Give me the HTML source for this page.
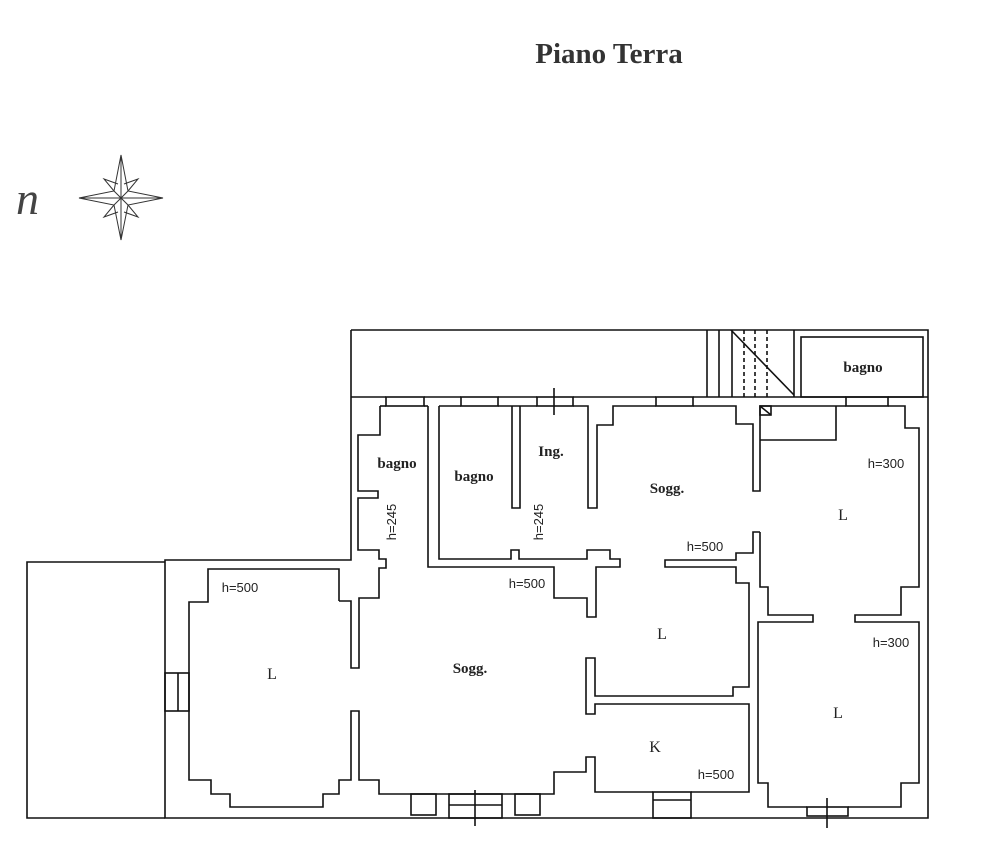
<!DOCTYPE html>
<html><head><meta charset="utf-8"><style>
body{margin:0;background:#fff}
svg{display:block}
.w{fill:none;stroke:#111;stroke-width:1.6}
.t{font-family:"Liberation Sans",sans-serif;font-size:13px;fill:#222}
.b{font-family:"Liberation Serif",serif;font-weight:bold;font-size:15px;fill:#222}
.r{font-family:"Liberation Serif",serif;font-size:16px;fill:#222}
</style></head><body>
<svg width="981" height="847" viewBox="0 0 981 847" xmlns="http://www.w3.org/2000/svg">
<text x="609" y="63" text-anchor="middle" font-family="Liberation Serif,serif" font-weight="bold" font-size="29" fill="#333">Piano Terra</text>
<text x="16" y="214" font-family="Liberation Serif,serif" font-style="italic" font-size="46" fill="#444">n</text>
<g fill="none" stroke="#333" stroke-width="1">
<polygon points="121,155 128,191 163,198 128,205 121,240 114,205 79,198 114,191"/>
<line x1="121" y1="155" x2="121" y2="240"/><line x1="79" y1="198" x2="163" y2="198"/>
<polyline points="114,191 104,179 118,184"/><polyline points="128,191 138,179 124,184"/>
<polyline points="114,205 104,217 118,212"/><polyline points="128,205 138,217 124,212"/>
<line x1="114" y1="191" x2="128" y2="205"/><line x1="128" y1="191" x2="114" y2="205"/>
</g>
<g class="w">
<polyline points="351,330 928,330 928,818 165,818 165,560 351,560 351,330"/>
<polyline points="165,562 27,562 27,818 165,818"/>
<line x1="351" y1="397" x2="386" y2="397"/><line x1="424" y1="397" x2="461" y2="397"/><line x1="498" y1="397" x2="537" y2="397"/><line x1="573" y1="397" x2="656" y2="397"/><line x1="693" y1="397" x2="846" y2="397"/><line x1="888" y1="397" x2="928" y2="397"/>
<rect x="386" y="397" width="38" height="9"/><rect x="461" y="397" width="37" height="9"/><rect x="537" y="397" width="36" height="9"/><rect x="656" y="397" width="37" height="9"/><rect x="846" y="397" width="42" height="9"/>
<line x1="554" y1="388" x2="554" y2="415"/>
<line x1="707" y1="330" x2="707" y2="397"/><line x1="719" y1="330" x2="719" y2="397"/><line x1="732" y1="330" x2="732" y2="397"/><line x1="794" y1="330" x2="794" y2="397"/>
<line x1="744" y1="330" x2="744" y2="397" stroke-dasharray="4 3"/><line x1="755" y1="330" x2="755" y2="397" stroke-dasharray="4 3"/><line x1="767" y1="330" x2="767" y2="397" stroke-dasharray="4 3"/>
<line x1="731" y1="330" x2="794" y2="395"/>
<rect x="801" y="337" width="122" height="60"/>
<polyline points="380,406 380,435 358,435 358,491 378,491 378,498 358,498 358,550 379,550 379,559 386,559 386,568 379,568 379,598 359,598 359,668 351,668 351,601 339,601"/>
<line x1="380" y1="406" x2="386" y2="406"/><line x1="424" y1="406" x2="428" y2="406"/>
<polyline points="428,406 428,567 554,567 554,598 587,598 587,617 596,617 596,567 620,567 620,559 610,559 610,550 587,550 587,559 519,559 519,550 511,550 511,559 439,559 439,406"/>
<line x1="439" y1="406" x2="461" y2="406"/><line x1="498" y1="406" x2="537" y2="406"/>
<polyline points="512,406 512,508 520,508 520,406"/>
<polyline points="573,406 588,406 588,508 597,508 597,425 613,425 613,406 656,406"/>
<polyline points="693,406 736,406 736,424 753,424 753,491 760,491 760,406 846,406"/>
<rect x="760" y="406" width="11" height="9"/><line x1="760" y1="406" x2="771" y2="415"/>
<polyline points="760,440 836,440 836,406"/>
<polyline points="888,406 905,406 905,428 919,428 919,587 901,587 901,615 855,615 855,622 919,622 919,783 901,783 901,807 848,807"/>
<polyline points="760,532 753,532 753,553 736,553 736,560 665,560 665,567 736,567 736,583 749,583 749,687 733,687 733,696 595,696 595,658 586,658 586,714 595,714 595,704 749,704 749,792 691,792"/>
<polyline points="760,532 760,587 768,587 768,615 813,615 813,622 758,622 758,783 768,783 768,807 807,807"/>
<rect x="807" y="807" width="41" height="9"/><line x1="827" y1="798" x2="827" y2="828"/>
<rect x="653" y="792" width="38" height="26"/><line x1="653" y1="800" x2="691" y2="800"/>
<polyline points="653,792 595,792 595,757 586,757 586,772 554,772 554,794 379,794 379,780 359,780 359,711 351,711 351,780 339,780 339,794 323,794 323,807 230,807 230,794 211,794 211,780 189,780 189,602 208,602 208,569 339,569 339,601"/>
<rect x="165" y="673" width="24" height="38"/><line x1="178" y1="673" x2="178" y2="711"/>
<rect x="411" y="794" width="25" height="21"/><rect x="515" y="794" width="25" height="21"/>
<rect x="449" y="794" width="53" height="24"/><line x1="449" y1="805" x2="502" y2="805"/><line x1="475" y1="790" x2="475" y2="826"/>
</g>
<text class="b" x="397" y="468" text-anchor="middle">bagno</text>
<text class="b" x="474" y="481" text-anchor="middle">bagno</text>
<text class="b" x="551" y="456" text-anchor="middle">Ing.</text>
<text class="b" x="667" y="493" text-anchor="middle">Sogg.</text>
<text class="b" x="863" y="372" text-anchor="middle" font-size="17">bagno</text>
<text class="b" x="470" y="673" text-anchor="middle">Sogg.</text>
<text class="r" x="843" y="520" text-anchor="middle">L</text>
<text class="r" x="272" y="679" text-anchor="middle">L</text>
<text class="r" x="662" y="639" text-anchor="middle">L</text>
<text class="r" x="655" y="752" text-anchor="middle">K</text>
<text class="r" x="838" y="718" text-anchor="middle">L</text>
<text class="t" x="886" y="468" text-anchor="middle">h=300</text>
<text class="t" x="891" y="647" text-anchor="middle">h=300</text>
<text class="t" x="705" y="551" text-anchor="middle">h=500</text>
<text class="t" x="527" y="588" text-anchor="middle">h=500</text>
<text class="t" x="240" y="592" text-anchor="middle">h=500</text>
<text class="t" x="716" y="779" text-anchor="middle">h=500</text>
<text class="t" transform="translate(396,522) rotate(-90)" text-anchor="middle">h=245</text>
<text class="t" transform="translate(543,522) rotate(-90)" text-anchor="middle">h=245</text>
</svg>
</body></html>
